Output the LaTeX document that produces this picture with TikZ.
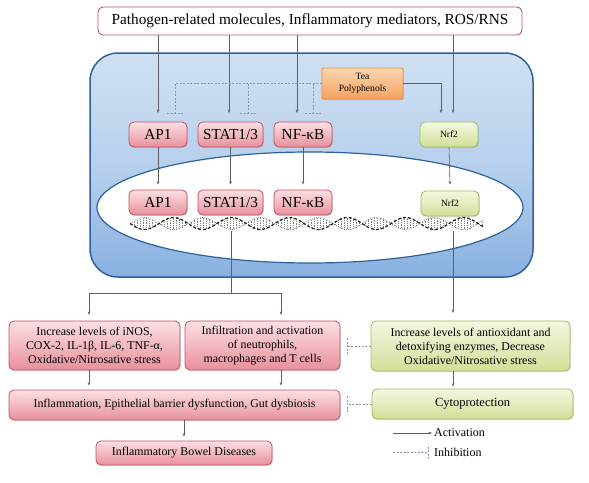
\documentclass[tikz,border=0pt]{standalone}
\usepackage{fontspec}
\setmainfont{Liberation Serif}
\usetikzlibrary{arrows.meta,shadows}
\definecolor{redtop}{RGB}{252,224,228}
\definecolor{redbot}{RGB}{232,144,156}
\definecolor{redline}{RGB}{192,80,96}
\definecolor{greentop}{RGB}{244,248,225}
\definecolor{greenbot}{RGB}{208,223,152}
\definecolor{greenline}{RGB}{158,187,89}
\definecolor{orangetop}{RGB}{252,214,176}
\definecolor{orangebot}{RGB}{243,163,96}
\definecolor{orangeline}{RGB}{228,140,70}
\definecolor{celltop}{RGB}{208,224,243}
\definecolor{cellmid}{RGB}{184,208,236}
\definecolor{cellbot}{RGB}{136,176,224}
\definecolor{cellline}{RGB}{46,98,158}
\definecolor{actline}{RGB}{95,95,95}
\definecolor{inhline}{RGB}{140,150,168}
\tikzset{
  redbox/.style={draw=redline, top color=redtop, bottom color=redbot, rounded corners=5pt,
    line width=0.8pt, drop shadow={shadow xshift=0.8pt,shadow yshift=-1pt,opacity=0.25},
    align=center, inner sep=0pt},
  greenbox/.style={redbox, draw=greenline, top color=greentop, bottom color=greenbot},
  teabox/.style={redbox, draw=orangeline, top color=orangetop, bottom color=orangebot, rounded corners=1pt},
  act/.style={draw=actline, line width=0.6pt, -{Stealth[length=3.5pt,width=2.6pt]}},
  inh/.style={draw=inhline, line width=0.7pt, dash pattern=on 2pt off 1.5pt},
  big/.style={font=\fontsize{15.3}{17}\selectfont},
  small/.style={font=\fontsize{11.9}{14}\selectfont},
}
\begin{document}
\begin{tikzpicture}[x=1pt,y=-1pt]
  \useasboundingbox (0,0) rectangle (589,482);
  \node[draw=redline, line width=0.9pt, fill=white, rounded corners=5pt, minimum width=424pt,
    minimum height=28pt, inner sep=0pt, big] (top) at (310,21)
    {Pathogen-related molecules, Inflammatory mediators, ROS/RNS};
  % cell and nucleus
  \draw[cellline, line width=1.5pt, top color=celltop, bottom color=cellbot, middle color=cellmid,
    rounded corners=28pt] (90,53) rectangle (533,277);
  \draw[cellline, line width=1.2pt, fill=white] (310,207.5) ellipse [x radius=213, y radius=55.5];
  \node[teabox, minimum width=81pt, minimum height=31pt, font=\fontsize{9.6}{12.5}\selectfont]
    (tea) at (362.5,83.5) {Tea\\Polyphenols};
  \node[redbox, minimum width=58pt, minimum height=25pt, big] (ap1a) at (158,134.5) {AP1};
  \node[redbox, minimum width=65pt, minimum height=25pt, big] (stata) at (230.5,134.5) {STAT1/3};
  \node[redbox, minimum width=58pt, minimum height=25pt, big] (nfkba) at (303,134.5) {NF-κB};
  \node[greenbox, minimum width=58pt, minimum height=25pt, font=\fontsize{9.5}{11}\selectfont]
    (nrf2a) at (449,134.5) {Nrf2};
  \node[redbox, minimum width=58pt, minimum height=25pt, big] (ap1b) at (158,202.5) {AP1};
  \node[redbox, minimum width=65pt, minimum height=25pt, big] (statb) at (230.5,202.5) {STAT1/3};
  \node[redbox, minimum width=58pt, minimum height=25pt, big] (nfkbb) at (303,202.5) {NF-κB};
  \node[greenbox, minimum width=58pt, minimum height=25pt, font=\fontsize{9.5}{11}\selectfont]
    (nrf2b) at (450,203.5) {Nrf2};
  % DNA
  \foreach \x in {131,134,...,482} {
    \pgfmathsetmacro\dy{6*sin(6.2069*(\x-130))}
    \draw[black!50, line width=0.5pt, dash pattern=on 0.6pt off 1.2pt] (\x,{223.5+\dy}) -- (\x,{223.5-\dy});
  }
  \draw[black!55, line width=0.8pt, dash pattern=on 0.8pt off 1.4pt] plot[domain=130:483, samples=160]
    (\x,{223.5-6*sin(6.2069*(\x-130))});
  \draw[black!85, line width=1.3pt, dash pattern=on 3pt off 2pt] plot[domain=130:483, samples=160]
    (\x,{223.5+6*sin(6.2069*(\x-130))});
  % lower boxes
  \node[redbox, minimum width=171pt, minimum height=49pt, small] (incA) at (94.5,345.5)
    {Increase levels of iNOS,\\COX-2, IL-1β, IL-6, TNF-α,\\Oxidative/Nitrosative stress};
  \node[redbox, minimum width=155pt, minimum height=49pt, small] (infB) at (262.5,345.5)
    {Infiltration and activation\\of neutrophils,\\macrophages and T cells};
  \node[greenbox, minimum width=199pt, minimum height=50pt, small] (antiE) at (470.5,346)
    {Increase levels of antioxidant and\\detoxifying enzymes, Decrease\\Oxidative/Nitrosative stress};
  \node[redbox, minimum width=331pt, minimum height=30pt, small] (inflC) at (174.5,405)
    {Inflammation, Epithelial barrier dysfunction, Gut dysbiosis};
  \node[greenbox, minimum width=201pt, minimum height=30pt, font=\fontsize{12.5}{14}\selectfont]
    (cytoF) at (472.5,404) {Cytoprotection};
  \node[redbox, minimum width=176pt, minimum height=24pt, small] (ibdD) at (184,453)
    {Inflammatory Bowel Diseases};
  % activation
  \coordinate (apIn) at (158,113);  \coordinate (stIn) at (229,113);
  \coordinate (nfIn) at (297,113);  \coordinate (nrIn) at (453,113);
  \coordinate (teaIn) at (441,113);
  \draw[act] (top.south -| apIn) -- (apIn);
  \draw[act] (top.south -| stIn) -- (stIn);
  \draw[act] (top.south -| nfIn) -- (nfIn);
  \draw[act] (top.south -| nrIn) -- (nrIn);
  \draw[act] (tea.east) -| (teaIn);
  \draw[act] (ap1a.south) -- ([yshift=5pt]ap1b.north);
  \draw[act] (stata.south) -- ([yshift=5pt]statb.north);
  \draw[act] (nfkba.south) -- ([yshift=5pt]nfkbb.north);
  \draw[act] (nrf2a.south) -- ([yshift=6pt]nrf2b.north);
  \coordinate (dnaL) at (231,231);  \coordinate (split) at (231,293);
  \coordinate (aIn) at (89,315);    \coordinate (bIn) at (281,315);
  \coordinate (dnaR) at (453,231);  \coordinate (eIn) at (453,313);
  \draw[actline, line width=0.6pt] (dnaL) -- (split);
  \draw[act] (split) -| (aIn);
  \draw[act] (split) -| (bIn);
  \draw[act] (dnaR) -- (eIn);
  \draw[act] (incA.south -| aIn) -- ([yshift=4pt]inflC.north -| aIn);
  \draw[act] (infB.south -| bIn) -- ([yshift=4pt]inflC.north -| bIn);
  \draw[act] (inflC.south -| ibdD) -- ([yshift=4pt]ibdD.north);
  \draw[act] (antiE.south -| eIn) -- ([yshift=2pt]cytoF.north -| eIn);
  % inhibition
  \coordinate (apInh) at (175,113);  \coordinate (stInh) at (248,113);
  \coordinate (nfInh) at (313,113);
  \draw[inh] (tea.west) -- (tea.west -| apInh) -- (apInh);
  \draw[inh] (tea.west -| stInh) -- (stInh);
  \draw[inh] (tea.west -| nfInh) -- (nfInh);
  \foreach \p in {apInh,stInh,nfInh}
    \draw[inh] ([xshift=-8pt]\p) -- ([xshift=8pt]\p);
  \coordinate (eInh) at (347,346);  \coordinate (fInh) at (347,404);
  \draw[inh] (antiE.west) -- (eInh);
  \draw[inh] (cytoF.west) -- (fInh);
  \foreach \p in {eInh,fInh}
    \draw[inh] ([yshift=-8pt]\p) -- ([yshift=8pt]\p);
  % legend
  \coordinate (actL) at (393,433);  \coordinate (actR) at (432,433);
  \coordinate (inhL) at (393,452);  \coordinate (inhR) at (428,452);
  \draw[act] (actL) -- (actR);
  \draw[inh] (inhL) -- (inhR);
  \draw[inh] ([yshift=-7pt]inhR) -- ([yshift=7pt]inhR);
  \node[anchor=west, inner sep=1pt, font=\fontsize{12}{13}\selectfont] (actT) at (433,433) {Activation};
  \node[anchor=west, inner sep=1pt, font=\fontsize{12}{13}\selectfont] (inhT) at (433,452) {Inhibition};
\end{tikzpicture}
\end{document}
